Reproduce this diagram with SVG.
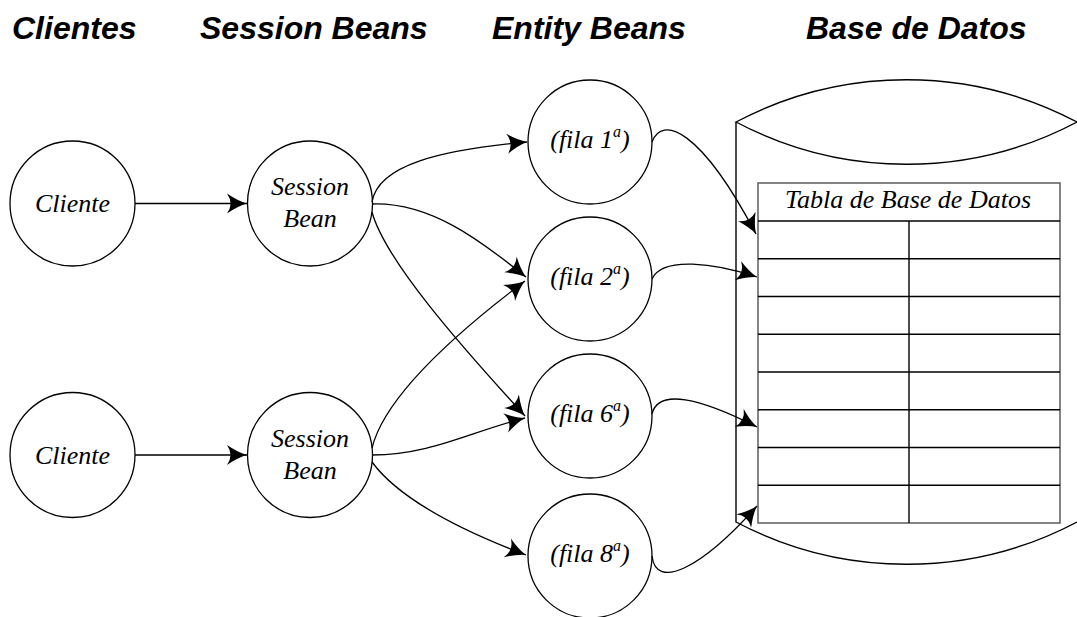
<svg xmlns="http://www.w3.org/2000/svg" width="1077" height="617" viewBox="0 0 1077 617">
<style>
.title{font-family:"Liberation Sans",Arial,sans-serif;font-weight:bold;font-style:italic;font-size:32px;fill:#000}
.lbl{font-family:"Liberation Serif","Times New Roman",serif;font-style:italic;font-size:26px;fill:#000;text-anchor:middle}
.sup{font-size:16px}
.node{fill:#fff;stroke:#000;stroke-width:1.3}
.conn{fill:none;stroke:#000;stroke-width:1.3;marker-end:url(#ah)}
.db{fill:none;stroke:#000;stroke-width:1.4}
.grid{stroke:#000;stroke-width:1.4}
</style>
<defs>
<marker id="ah" markerUnits="userSpaceOnUse" viewBox="-22 -12 24 24" refX="0" refY="0" markerWidth="24" markerHeight="24" orient="auto" overflow="visible">
<path d="M0,0 Q-9,-2.5 -20,-10 Q-13,0 -20,10 Q-9,2.5 0,0 Z" fill="#000"/>
</marker>
</defs>
<rect width="1077" height="617" fill="#fff"/>
<g id="titles">
<text class="title" x="12" y="39">Clientes</text>
<text class="title" x="200" y="39">Session Beans</text>
<text class="title" x="492" y="39">Entity Beans</text>
<text class="title" x="806" y="39">Base de Datos</text>
</g>
<g id="database">
<path class="db" d="M736,122 A365,365 0 0 1 1077,122 A365,365 0 0 1 736,122 Z"/>
<path class="db" d="M736,122 L736,522 A365,365 0 0 0 1077,522"/>
<rect x="758" y="183" width="302" height="340" fill="#fff" stroke="#666" stroke-width="1.6"/>
<g class="grid">
<line x1="758" y1="221" x2="1060" y2="221"/>
<line x1="758" y1="258.75" x2="1060" y2="258.75"/>
<line x1="758" y1="296.5" x2="1060" y2="296.5"/>
<line x1="758" y1="334.25" x2="1060" y2="334.25"/>
<line x1="758" y1="372" x2="1060" y2="372"/>
<line x1="758" y1="409.75" x2="1060" y2="409.75"/>
<line x1="758" y1="447.5" x2="1060" y2="447.5"/>
<line x1="758" y1="485.25" x2="1060" y2="485.25"/>
<line x1="909" y1="221" x2="909" y2="523"/>
</g>
<text class="lbl" x="908" y="208">Tabla de Base de Datos</text>
</g>
<g id="cliente1"><circle class="node" cx="72.5" cy="203.5" r="62.5"/><text class="lbl" x="72.5" y="212">Cliente</text></g>
<g id="cliente2"><circle class="node" cx="72.5" cy="455" r="62.5"/><text class="lbl" x="72.5" y="463.5">Cliente</text></g>
<g id="session1"><circle class="node" cx="310" cy="203.5" r="62.5"/><text class="lbl" x="310" y="195">Session</text><text class="lbl" x="310" y="227">Bean</text></g>
<g id="session2"><circle class="node" cx="310" cy="455" r="62.5"/><text class="lbl" x="310" y="446.5">Session</text><text class="lbl" x="310" y="478.5">Bean</text></g>
<g id="fila1"><circle class="node" cx="590" cy="142" r="62"/><text class="lbl" x="590" y="148">(fila 1<tspan class="sup" dy="-11">a</tspan><tspan dy="11">)</tspan></text></g>
<g id="fila2"><circle class="node" cx="590" cy="279" r="62"/><text class="lbl" x="590" y="285">(fila 2<tspan class="sup" dy="-11">a</tspan><tspan dy="11">)</tspan></text></g>
<g id="fila6"><circle class="node" cx="590" cy="416" r="62"/><text class="lbl" x="590" y="422">(fila 6<tspan class="sup" dy="-11">a</tspan><tspan dy="11">)</tspan></text></g>
<g id="fila8"><circle class="node" cx="590" cy="556" r="62"/><text class="lbl" x="590" y="562">(fila 8<tspan class="sup" dy="-11">a</tspan><tspan dy="11">)</tspan></text></g>
<g id="connectors">
<path class="conn" d="M135,203.5 L247,203.5"/>
<path class="conn" d="M135,455 L247,455"/>
<path class="conn" d="M372,202 C378,165 440,150 527,142"/>
<path class="conn" d="M372,204 C430,202 480,240 526,277"/>
<path class="conn" d="M372,212 C385,260 460,345 525,416"/>
<path class="conn" d="M372,448 C385,395 460,330 525,281"/>
<path class="conn" d="M372,455 C430,455 470,432 525,418"/>
<path class="conn" d="M372,462 C400,500 460,530 526,555"/>
<path class="conn" d="M652,142 C662,115 700,128 756,234"/>
<path class="conn" d="M652,279 C662,256 715,263 757,277"/>
<path class="conn" d="M652,414 C658,388 700,398 757,427"/>
<path class="conn" d="M652,556 C656,590 700,570 757,506"/>
</g>
</svg>
